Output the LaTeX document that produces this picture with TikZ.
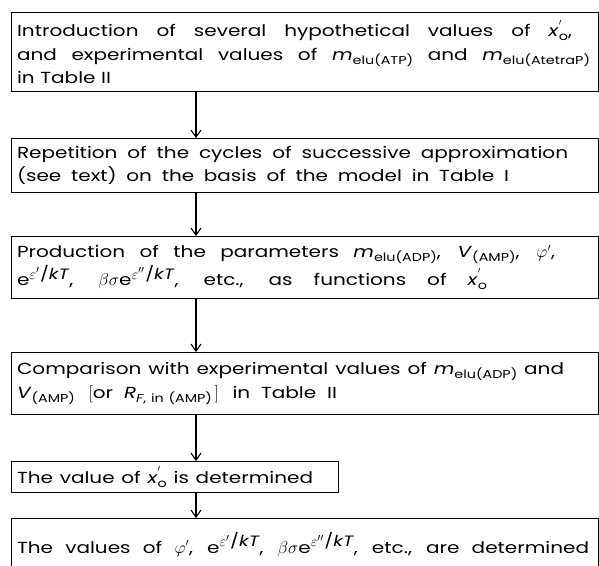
\documentclass[tikz,border=0pt]{standalone}
\usepackage{fontspec}
\setmainfont[FakeStretch=1.25]{Poppins}
\usetikzlibrary{arrows.meta}
\newcommand\subx[1]{\raisebox{-0.45ex}{\fontsize{11.5}{11.5}\selectfont #1}}
\newcommand\supx[1]{\raisebox{0.85ex}{\fontsize{13}{13}\selectfont #1}}
\newcommand\supe[1]{\raisebox{0.75ex}{\fontsize{15}{15}\selectfont $\varepsilon#1$\kern0.5pt/\textit{kT}}}
\newcommand\xo{\textit{x}\rlap{\supx{$'$}}\subx{o}}
\newcommand\melu[1]{\textit{m}\subx{elu(#1)}}
\newcommand\vamp{\textit{V}\subx{(AMP)}}
\newcommand\wsp{\spaceskip=0.45em plus 0.1em\relax}
\newcommand\jl[2][566pt]{{\spaceskip=0.3em plus 1fil\relax\makebox[#1][s]{#2}}}
\begin{document}
\begin{tikzpicture}[x=1pt,y=-1pt,
  box/.style={draw, line width=1.1pt, anchor=north west, inner xsep=0pt, inner ysep=0pt,
    minimum width=587pt, text width=576pt, align=left,
    font=\fontsize{16}{23.5}\selectfont\wsp},
  smallbox/.style={box, minimum width=327pt, text width=316pt},
  arr/.style={line width=1.1pt, -{Straight Barb[length=7pt,width=10pt]}}]
\useasboundingbox (0,0) rectangle (599,565);
\coordinate (ax) at (196,0);
\node[box, minimum height=79pt] (b1) at (11,12)
  {\jl[555pt]{Introduction of several hypothetical values of \xo,}\\
   \jl[573pt]{and experimental values of \melu{ATP} and \melu{AtetraP}}\\
   \jl[94pt]{in Table II}};
\node[box, minimum height=54pt] (b2) at (11,138)
  {\jl[551pt]{Repetition of the cycles of successive approximation}\\
   \jl[492pt]{(see text) on the basis of the model in Table I}};
\node[box, minimum height=62pt] (b3) at (11,236)
  {\jl[538pt]{Production of the parameters \melu{ADP}, \vamp, $\varphi'$,}\\
   \jl[470pt]{e\supe{'}, $\beta\sigma$e\supe{''}, etc., as functions of \xo}};
\node[box, minimum height=62pt] (b4) at (11,352)
  {\jl[547pt]{Comparison with experimental values of \melu{ADP} and}\\
   \jl[320pt]{\vamp{}\, $\Big[$or \textit{R}\subx{\textit{F}, in (AMP)}\,$\Big]$\, in Table II}};
\node[smallbox, minimum height=31pt] (b5) at (11,461)
  {\jl[296pt]{The value of \xo{} is determined}};
\node[box, minimum height=52pt] (b6) at (11,518)
  {\jl[572pt]{The values of $\varphi'$, e\supe{'}, $\beta\sigma$e\supe{''}, etc., are determined}};
\draw[arr] (b1.south -| ax) -- (b2.north -| ax);
\draw[arr] (b2.south -| ax) -- (b3.north -| ax);
\draw[arr] (b3.south -| ax) -- (b4.north -| ax);
\draw[arr] (b4.south -| ax) -- (b5.north -| ax);
\draw[arr] (b5.south -| ax) -- (b6.north -| ax);
\end{tikzpicture}
\end{document}
